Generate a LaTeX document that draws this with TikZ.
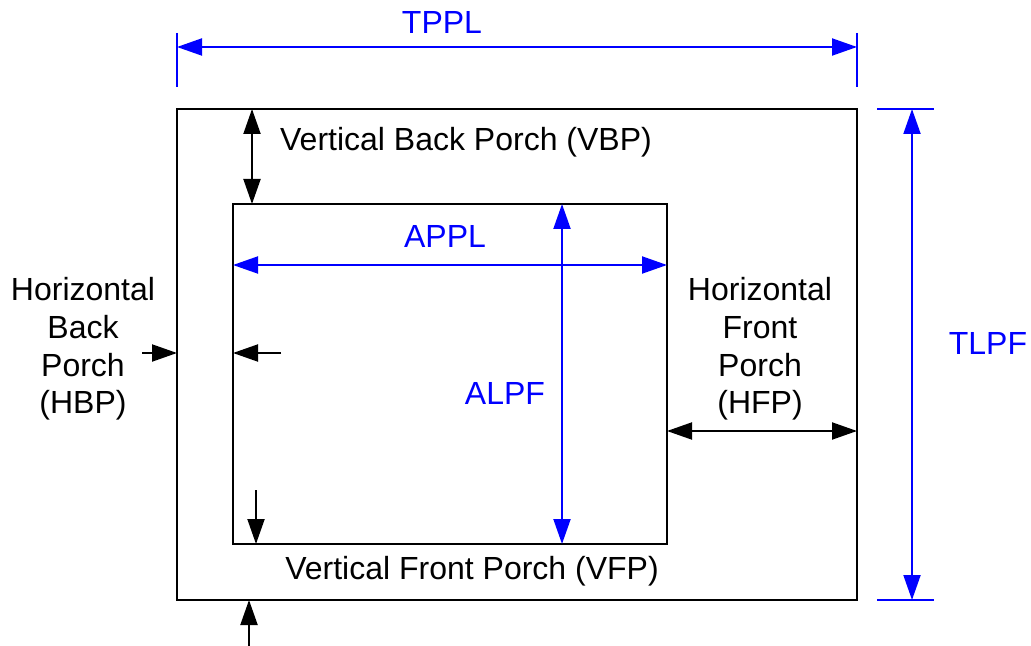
\documentclass[tikz,border=0pt]{standalone}
\usepackage{fontspec}
\setmainfont{Liberation Sans}
\usetikzlibrary{arrows.meta}
\begin{document}
\begin{tikzpicture}[x=0.5pt,y=-0.5pt,line width=1pt,>={Triangle[length=12.5pt,width=8.5pt]}]
	\tikzset{lbl/.style={font=\fontsize{16}{18.8}\selectfont,align=center,inner sep=0pt},
		frame/.style={draw,inner sep=0pt,outer sep=0pt},
		dim/.style={blue,line width=1pt}}
	\useasboundingbox (0,0) rectangle (1031,646);
	% frames
	\node[frame,minimum width=340pt,minimum height=245.5pt] (total) at (517,354.5) {};
	\node[frame,minimum width=217pt,minimum height=170pt] (active) at (450,374) {};
	% total sizes
	\path (177,47) coordinate (tppl a) (857,47) coordinate (tppl b)
		(912,109) coordinate (tlpf a) (912,600) coordinate (tlpf b);
	\draw[dim] (177,33)--(177,87) (857,33)--(857,87);
	\draw[dim] (877,109)--(934,109) (877,600)--(934,600);
	\draw[dim,<->] (tppl a)--(tppl b);
	\draw[dim,<->] (tlpf a)--(tlpf b);
	\node[lbl,blue] (tppl) at (442,22) {TPPL};
	\node[lbl,blue] (tlpf) at (988,343) {TLPF};
	% active sizes
	\path (233,265) coordinate (appl a) (667,265) coordinate (appl b)
		(562,204) coordinate (alpf a) (562,544) coordinate (alpf b);
	\draw[dim,<->] (appl a)--(appl b);
	\draw[dim,<->] (alpf a)--(alpf b);
	\node[lbl,blue] (appl) at (445,236) {APPL};
	\node[lbl,blue] (alpf) at (505,393) {ALPF};
	% porches
	\path (252,109) coordinate (vbp a) (252,204) coordinate (vbp b)
		(667,431) coordinate (hfp a) (857,431) coordinate (hfp b)
		(142,353) coordinate (hbp a) (177,353) coordinate (hbp b)
		(281,353) coordinate (hbp c) (233,353) coordinate (hbp d)
		(256,490) coordinate (vfp a) (256,544) coordinate (vfp b)
		(249,646) coordinate (vfp c) (249,600) coordinate (vfp d);
	\draw[<->] (vbp a)--(vbp b);
	\draw[<->] (hfp a)--(hfp b);
	\draw[->] (hbp a)--(hbp b);
	\draw[->] (hbp c)--(hbp d);
	\draw[->] (vfp a)--(vfp b);
	\draw[->] (vfp c)--(vfp d);
	\node[lbl] (vbp) at (466,142) {Vertical Back Porch (VBP)};
	\node[lbl] (vfp) at (472,571) {Vertical Front Porch (VFP)};
	\node[lbl] (hbp) at (83,349) {Horizontal\\Back\\Porch\\(HBP)};
	\node[lbl] (hfp) at (760,349) {Horizontal\\Front\\Porch\\(HFP)};
\end{tikzpicture}
\end{document}
